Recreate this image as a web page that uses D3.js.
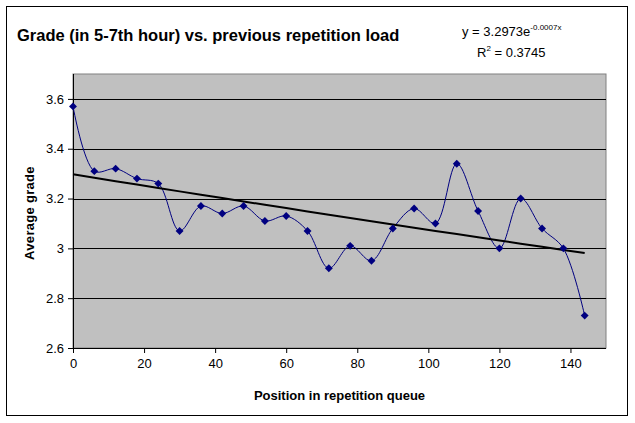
<!DOCTYPE html>
<html>
<head>
<meta charset="utf-8">
<script src="https://cdn.jsdelivr.net/npm/d3@7"></script>
<style>
  body { margin: 0; background: #fff; }
  svg { font-family: Arial, "Liberation Sans", sans-serif; }
</style>
</head>
<body>
<script>
// Data
const positions = [0, 6, 12, 18, 24, 30, 36, 42, 48, 54, 60, 66, 72, 78, 84, 90, 96, 102, 108, 114, 120, 126, 132, 138, 144];
const grades = [3.57, 3.31, 3.32, 3.28, 3.26, 3.07, 3.17, 3.14, 3.17, 3.11, 3.13, 3.07, 2.92, 3.01, 2.95, 3.08, 3.16, 3.10, 3.34, 3.15, 3.00, 3.20, 3.08, 3.00, 2.73];
const xTicks = [0, 20, 40, 60, 80, 100, 120, 140];
const yTicks = [2.6, 2.8, 3, 3.2, 3.4, 3.6];
// Exponential trendline coefficients (as shown on the chart)
const trendA = 3.2973;
const trendB = -0.0007;

const width = 635, height = 423;
const plot = { left: 73, top: 74, right: 606, bottom: 348 };

const svg = d3.select('body').append('svg')
  .attr('width', width)
  .attr('height', height);

// Outer chart border
svg.append('rect')
  .attr('x', 6.5).attr('y', 6.5)
  .attr('width', 621).attr('height', 409)
  .attr('fill', '#fff')
  .attr('stroke', '#000')
  .attr('stroke-width', 1);

const x = d3.scaleLinear().domain([0, 150]).range([plot.left, plot.right]);
const y = d3.scaleLinear().domain([2.6, 3.7]).range([plot.bottom, plot.top]);

// Plot area
svg.append('rect')
  .attr('x', plot.left).attr('y', plot.top)
  .attr('width', plot.right - plot.left)
  .attr('height', plot.bottom - plot.top)
  .attr('fill', '#c0c0c0')
  .attr('stroke', '#808080')
  .attr('stroke-width', 1);

// Gridlines
svg.append('g')
  .selectAll('line')
  .data(yTicks.slice(1))
  .enter()
  .append('line')
  .attr('x1', plot.left).attr('x2', plot.right)
  .attr('y1', d => Math.round(y(d)) + 0.5)
  .attr('y2', d => Math.round(y(d)) + 0.5)
  .attr('stroke', '#000')
  .attr('stroke-width', 1);

// Axes
const xAxis = d3.axisBottom(x).tickValues(xTicks).tickSize(5).tickPadding(6).tickFormat(d3.format('d'));
const yAxis = d3.axisLeft(y).tickValues(yTicks).tickSize(5).tickPadding(4).tickFormat(d => d3.format('')(d));

const gx = svg.append('g')
  .attr('transform', `translate(0, ${plot.bottom})`)
  .call(xAxis);
gx.select('.domain').attr('d', `M${plot.left},0.5H${plot.right}`);

const gy = svg.append('g')
  .attr('transform', `translate(${plot.left}, 0)`)
  .call(yAxis);
gy.select('.domain').attr('d', `M0.5,${plot.top}V${plot.bottom}`);

svg.selectAll('.tick text')
  .attr('font-size', 13)
  .attr('font-family', 'Arial, "Liberation Sans", sans-serif')
  .attr('fill', '#000');

// Series line (smoothed)
const line = d3.line()
  .x((d, i) => x(positions[i]))
  .y(d => y(d))
  .curve(d3.curveCatmullRom.alpha(0.5));

svg.append('path')
  .datum(grades)
  .attr('d', line)
  .attr('fill', 'none')
  .attr('stroke', '#000080')
  .attr('stroke-width', 1);

// Trendline from equation
const trend = positions.map(p => trendA * Math.exp(trendB * p));
const trendLine = d3.line()
  .x((d, i) => x(positions[i]))
  .y(d => y(d));

svg.append('path')
  .datum(trend)
  .attr('d', trendLine)
  .attr('fill', 'none')
  .attr('stroke', '#000')
  .attr('stroke-width', 2);

// Diamond markers
svg.append('g')
  .selectAll('path')
  .data(grades)
  .enter()
  .append('path')
  .attr('d', d3.symbol().type(d3.symbolDiamond2).size(40))
  .attr('transform', (d, i) => `translate(${x(positions[i])}, ${y(d)})`)
  .attr('fill', '#000080');

// Title
svg.append('text')
  .attr('x', 17).attr('y', 41)
  .attr('font-size', 16.5)
  .attr('font-weight', 'bold')
  .text('Grade (in 5-7th hour) vs. previous repetition load');

// Equation labels
const eq = svg.append('text')
  .attr('x', 462).attr('y', 36)
  .attr('font-size', 13);
eq.append('tspan').text('y = 3.2973e');
eq.append('tspan').attr('font-size', 8).attr('dy', -6).text('-0.0007x');

const r2 = svg.append('text')
  .attr('x', 477).attr('y', 57)
  .attr('font-size', 13);
r2.append('tspan').text('R');
r2.append('tspan').attr('font-size', 8).attr('dy', -6).text('2');
r2.append('tspan').attr('dy', 6).text(' = 0.3745');

// Axis titles
svg.append('text')
  .attr('x', (plot.left + plot.right) / 2)
  .attr('y', 400)
  .attr('text-anchor', 'middle')
  .attr('font-size', 13)
  .attr('font-weight', 'bold')
  .text('Position in repetition queue');

svg.append('text')
  .attr('transform', `translate(34, ${(plot.top + plot.bottom) / 2 + 2}) rotate(-90)`)
  .attr('text-anchor', 'middle')
  .attr('font-size', 13)
  .attr('font-weight', 'bold')
  .attr('letter-spacing', 0.3)
  .text('Average grade');
</script>
</body>
</html>
